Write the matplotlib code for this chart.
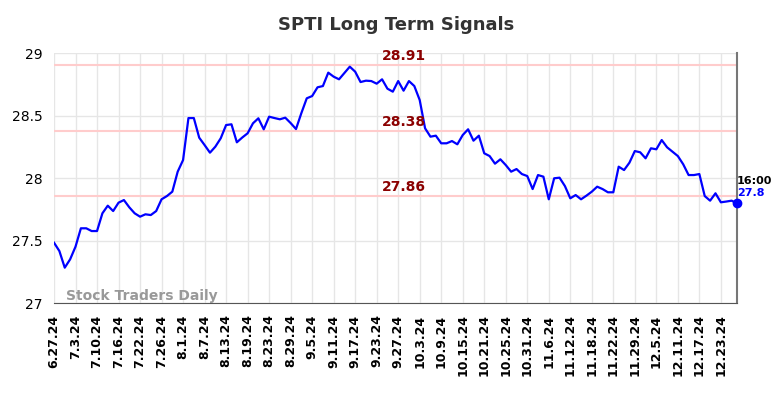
import matplotlib
matplotlib.use("Agg")
import matplotlib.pyplot as plt

# closing prices, one per trading day from 6.27.24 to 12.27.24
prices = [
    27.485, 27.418, 27.285, 27.352, 27.453, 27.60, 27.60, 27.578, 27.578, 27.72,
    27.781, 27.738, 27.805, 27.826, 27.768, 27.72, 27.693, 27.712, 27.706, 27.738,
    27.832, 27.858, 27.893, 28.053, 28.146, 28.482, 28.482, 28.325, 28.266, 28.205,
    28.253, 28.32, 28.426, 28.432, 28.288, 28.326, 28.36, 28.44, 28.48, 28.392,
    28.493, 28.482, 28.472, 28.485, 28.442, 28.394, 28.522, 28.64, 28.658, 28.728,
    28.738, 28.845, 28.813, 28.792, 28.842, 28.893, 28.853, 28.77, 28.781, 28.778,
    28.757, 28.792, 28.717, 28.693, 28.778, 28.701, 28.778, 28.738, 28.626, 28.40,
    28.333, 28.341, 28.28, 28.28, 28.298, 28.272, 28.346, 28.392, 28.301, 28.341,
    28.20, 28.178, 28.117, 28.152, 28.106, 28.053, 28.074, 28.034, 28.018, 27.914,
    28.026, 28.013, 27.832, 28.00, 28.005, 27.938, 27.84, 27.866, 27.832, 27.861,
    27.893, 27.933, 27.914, 27.888, 27.888, 28.093, 28.066, 28.125, 28.218, 28.208,
    28.16, 28.24, 28.232, 28.306, 28.248, 28.213, 28.178, 28.112, 28.026, 28.026,
    28.034, 27.858, 27.821, 27.88, 27.808, 27.814, 27.821, 27.80,
]

tick_labels = ["6.27.24", "7.3.24", "7.10.24", "7.16.24", "7.22.24", "7.26.24",
               "8.1.24", "8.7.24", "8.13.24", "8.19.24", "8.23.24", "8.29.24",
               "9.5.24", "9.11.24", "9.17.24", "9.23.24", "9.27.24", "10.3.24",
               "10.9.24", "10.15.24", "10.21.24", "10.25.24", "10.31.24", "11.6.24",
               "11.12.24", "11.18.24", "11.22.24", "11.29.24", "12.5.24", "12.11.24",
               "12.17.24", "12.23.24"]

levels = [28.91, 28.38, 27.86]
last_time = "16:00"

fig = plt.figure(figsize=(7.84, 3.98), dpi=100)
ax = fig.add_axes([54/784, 1-303.3/398, (737-54)/784, (303.3-53.3)/398])

x = list(range(len(prices)))
ax.plot(x, prices, color="#0000ff", lw=1.6, zorder=3)
ax.plot(x[-1], prices[-1], "o", color="#0000ff", ms=6, zorder=4, clip_on=False)

for lv in levels:
    ax.axhline(lv, color="#ffcccc", lw=1.5, zorder=1)
    ax.text(65, lv + 0.015, f"{lv:.2f}", color="#8b0000",
            fontsize=10, fontweight="bold", ha="center", va="bottom")

ax.set_xlim(0, len(prices) - 1)
ax.set_ylim(27, 29)
ax.set_yticks([27, 27.5, 28, 28.5, 29])
ax.set_yticklabels(["27", "27.5", "28", "28.5", "29"])
ax.set_xticks(range(0, len(tick_labels) * 4, 4))
ax.set_xticklabels(tick_labels, rotation=90, fontweight="bold", fontsize=9)
ax.tick_params(axis="both", length=0, pad=8)
ax.tick_params(axis="y", labelsize=10)
ax.grid(True, color="#e6e6e6", lw=1)
ax.set_axisbelow(True)

for s in ["left", "top"]:
    ax.spines[s].set_visible(False)
ax.spines["bottom"].set_color("#555555")
ax.spines["right"].set_color("#777777")
ax.spines["right"].set_linewidth(1.5)

ax.text(0.018, 0.0, "Stock Traders Daily", transform=ax.transAxes, color="#999999",
        fontsize=10, fontweight="bold", ha="left", va="bottom")
ax.text(len(prices) - 1, prices[-1] + 0.135, last_time, fontsize=8, fontweight="bold",
        color="black", ha="left", va="bottom")
ax.text(len(prices) - 1, prices[-1] + 0.045, f"{prices[-1]:.1f}", fontsize=8,
        fontweight="bold", color="#0000ff", ha="left", va="bottom")

fig.suptitle("SPTI Long Term Signals", fontsize=13, fontweight="bold", color="#333333",
             x=0.505, y=0.96)

fig.savefig("out.png", dpi=100)
